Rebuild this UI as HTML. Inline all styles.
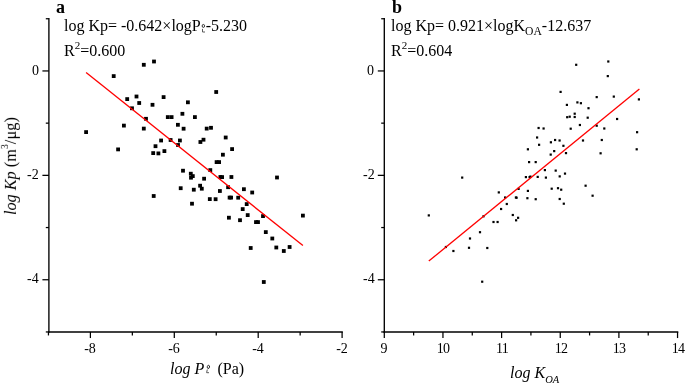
<!DOCTYPE html>
<html><head><meta charset="utf-8"><title>chart</title>
<style>
html,body{margin:0;padding:0;background:#fff;overflow:hidden;}
html{width:685px;height:383px;}
body{width:685px;height:383px;position:relative;overflow:hidden;font-family:"Liberation Serif",serif;color:#000;}
.t{position:absolute;white-space:nowrap;line-height:1;will-change:transform;}
.tk{font-size:14px;}
.eq{font-size:16px;}
.pl{font-size:18px;font-weight:bold;}
sup.s,sub.s{font-size:11px;line-height:0;}
sup.s{vertical-align:7.3px;}
sub.s{vertical-align:-3.5px;}
</style></head><body><div id="wrap" style="position:absolute;left:0;top:0;width:685px;height:383px;overflow:hidden;background:#fff">

<svg width="685" height="383" viewBox="0 0 685 383" style="position:absolute;left:0;top:0">
<g stroke="#000" stroke-width="1.35" fill="none" stroke-linecap="butt">
<path d="M48.90 18.00V332.70"/>
<path d="M48.15 331.95H342.85"/>
</g>
<g stroke="#000" stroke-width="1.25" fill="none">
<path d="M42.40 70.95H48.90"/>
<path d="M42.40 175.35H48.90"/>
<path d="M42.40 279.75H48.90"/>
<path d="M45.80 18.75H48.90"/>
<path d="M45.80 123.15H48.90"/>
<path d="M45.80 227.55H48.90"/>
<path d="M45.80 331.95H48.90"/>
<path d="M90.40 331.95V338.05"/>
<path d="M174.30 331.95V338.05"/>
<path d="M258.20 331.95V338.05"/>
<path d="M342.10 331.95V338.05"/>
<path d="M48.45 331.95V335.45"/>
<path d="M132.35 331.95V335.45"/>
<path d="M216.25 331.95V335.45"/>
<path d="M300.15 331.95V335.45"/>
</g>
<g stroke="#000" stroke-width="1.35" fill="none" stroke-linecap="butt">
<path d="M384.30 18.00V332.70"/>
<path d="M383.55 331.95H678.30"/>
</g>
<g stroke="#000" stroke-width="1.25" fill="none">
<path d="M377.80 70.95H384.30"/>
<path d="M377.80 175.35H384.30"/>
<path d="M377.80 279.75H384.30"/>
<path d="M381.20 18.75H384.30"/>
<path d="M381.20 123.15H384.30"/>
<path d="M381.20 227.55H384.30"/>
<path d="M381.20 331.95H384.30"/>
<path d="M384.30 331.95V338.05"/>
<path d="M442.95 331.95V338.05"/>
<path d="M501.60 331.95V338.05"/>
<path d="M560.25 331.95V338.05"/>
<path d="M618.90 331.95V338.05"/>
<path d="M677.55 331.95V338.05"/>
<path d="M413.62 331.95V335.45"/>
<path d="M472.27 331.95V335.45"/>
<path d="M530.92 331.95V335.45"/>
<path d="M589.58 331.95V335.45"/>
<path d="M648.23 331.95V335.45"/>
</g>
<g fill="#000">
<rect x="152.1" y="59.6" width="3.8" height="3.8"/>
<rect x="141.9" y="62.9" width="3.8" height="3.8"/>
<rect x="111.8" y="74.2" width="3.8" height="3.8"/>
<rect x="214.3" y="90.1" width="3.8" height="3.8"/>
<rect x="134.6" y="94.6" width="3.8" height="3.8"/>
<rect x="125.3" y="97.2" width="3.8" height="3.8"/>
<rect x="161.7" y="95.2" width="3.8" height="3.8"/>
<rect x="137.3" y="101.1" width="3.8" height="3.8"/>
<rect x="150.6" y="102.9" width="3.8" height="3.8"/>
<rect x="186.0" y="100.4" width="3.8" height="3.8"/>
<rect x="130.1" y="106.4" width="3.8" height="3.8"/>
<rect x="180.5" y="111.9" width="3.8" height="3.8"/>
<rect x="165.9" y="115.2" width="3.8" height="3.8"/>
<rect x="169.7" y="115.2" width="3.8" height="3.8"/>
<rect x="193.0" y="115.2" width="3.8" height="3.8"/>
<rect x="144.1" y="116.9" width="3.8" height="3.8"/>
<rect x="122.0" y="123.7" width="3.8" height="3.8"/>
<rect x="176.0" y="122.9" width="3.8" height="3.8"/>
<rect x="141.9" y="126.7" width="3.8" height="3.8"/>
<rect x="181.7" y="126.8" width="3.8" height="3.8"/>
<rect x="204.8" y="126.7" width="3.8" height="3.8"/>
<rect x="209.1" y="125.9" width="3.8" height="3.8"/>
<rect x="84.2" y="130.2" width="3.8" height="3.8"/>
<rect x="223.8" y="135.6" width="3.8" height="3.8"/>
<rect x="159.2" y="138.6" width="3.8" height="3.8"/>
<rect x="168.7" y="138.1" width="3.8" height="3.8"/>
<rect x="178.0" y="138.6" width="3.8" height="3.8"/>
<rect x="201.6" y="137.8" width="3.8" height="3.8"/>
<rect x="198.5" y="140.1" width="3.8" height="3.8"/>
<rect x="176.1" y="143.1" width="3.8" height="3.8"/>
<rect x="153.6" y="144.3" width="3.8" height="3.8"/>
<rect x="116.2" y="147.5" width="3.8" height="3.8"/>
<rect x="230.2" y="147.2" width="3.8" height="3.8"/>
<rect x="162.5" y="149.2" width="3.8" height="3.8"/>
<rect x="151.3" y="151.2" width="3.8" height="3.8"/>
<rect x="156.5" y="151.5" width="3.8" height="3.8"/>
<rect x="221.0" y="152.8" width="3.8" height="3.8"/>
<rect x="214.7" y="160.2" width="3.8" height="3.8"/>
<rect x="217.2" y="160.2" width="3.8" height="3.8"/>
<rect x="181.1" y="168.8" width="3.8" height="3.8"/>
<rect x="208.4" y="168.2" width="3.8" height="3.8"/>
<rect x="188.9" y="171.8" width="3.8" height="3.8"/>
<rect x="190.9" y="174.2" width="3.8" height="3.8"/>
<rect x="189.1" y="175.8" width="3.8" height="3.8"/>
<rect x="218.5" y="175.1" width="3.8" height="3.8"/>
<rect x="220.2" y="175.2" width="3.8" height="3.8"/>
<rect x="229.5" y="175.1" width="3.8" height="3.8"/>
<rect x="202.2" y="176.8" width="3.8" height="3.8"/>
<rect x="198.2" y="183.8" width="3.8" height="3.8"/>
<rect x="199.9" y="186.8" width="3.8" height="3.8"/>
<rect x="178.8" y="186.3" width="3.8" height="3.8"/>
<rect x="191.9" y="187.8" width="3.8" height="3.8"/>
<rect x="226.2" y="185.3" width="3.8" height="3.8"/>
<rect x="242.0" y="187.3" width="3.8" height="3.8"/>
<rect x="218.0" y="189.1" width="3.8" height="3.8"/>
<rect x="250.3" y="190.6" width="3.8" height="3.8"/>
<rect x="151.8" y="194.1" width="3.8" height="3.8"/>
<rect x="207.9" y="197.2" width="3.8" height="3.8"/>
<rect x="213.7" y="197.3" width="3.8" height="3.8"/>
<rect x="227.7" y="195.7" width="3.8" height="3.8"/>
<rect x="229.2" y="195.7" width="3.8" height="3.8"/>
<rect x="236.3" y="195.8" width="3.8" height="3.8"/>
<rect x="190.1" y="201.8" width="3.8" height="3.8"/>
<rect x="244.8" y="202.2" width="3.8" height="3.8"/>
<rect x="240.8" y="207.2" width="3.8" height="3.8"/>
<rect x="245.8" y="213.2" width="3.8" height="3.8"/>
<rect x="261.1" y="214.2" width="3.8" height="3.8"/>
<rect x="227.0" y="215.8" width="3.8" height="3.8"/>
<rect x="238.1" y="218.3" width="3.8" height="3.8"/>
<rect x="254.1" y="220.2" width="3.8" height="3.8"/>
<rect x="256.1" y="220.2" width="3.8" height="3.8"/>
<rect x="301.0" y="213.7" width="3.8" height="3.8"/>
<rect x="275.1" y="175.6" width="3.8" height="3.8"/>
<rect x="263.9" y="230.2" width="3.8" height="3.8"/>
<rect x="270.4" y="236.6" width="3.8" height="3.8"/>
<rect x="248.8" y="246.1" width="3.8" height="3.8"/>
<rect x="274.4" y="245.6" width="3.8" height="3.8"/>
<rect x="287.7" y="245.1" width="3.8" height="3.8"/>
<rect x="281.9" y="249.1" width="3.8" height="3.8"/>
<rect x="261.9" y="280.1" width="3.8" height="3.8"/>
<rect x="607.2" y="60.4" width="2.2" height="2.2"/>
<rect x="575.1" y="63.7" width="2.2" height="2.2"/>
<rect x="606.7" y="75.0" width="2.2" height="2.2"/>
<rect x="559.5" y="90.8" width="2.2" height="2.2"/>
<rect x="595.6" y="96.0" width="2.2" height="2.2"/>
<rect x="612.7" y="95.5" width="2.2" height="2.2"/>
<rect x="637.8" y="98.3" width="2.2" height="2.2"/>
<rect x="576.3" y="101.3" width="2.2" height="2.2"/>
<rect x="579.8" y="102.1" width="2.2" height="2.2"/>
<rect x="565.8" y="103.8" width="2.2" height="2.2"/>
<rect x="587.4" y="107.1" width="2.2" height="2.2"/>
<rect x="573.6" y="112.6" width="2.2" height="2.2"/>
<rect x="566.1" y="116.1" width="2.2" height="2.2"/>
<rect x="568.6" y="115.6" width="2.2" height="2.2"/>
<rect x="573.6" y="115.9" width="2.2" height="2.2"/>
<rect x="586.6" y="116.6" width="2.2" height="2.2"/>
<rect x="616.0" y="117.9" width="2.2" height="2.2"/>
<rect x="578.8" y="123.9" width="2.2" height="2.2"/>
<rect x="595.6" y="124.6" width="2.2" height="2.2"/>
<rect x="537.5" y="126.9" width="2.2" height="2.2"/>
<rect x="542.5" y="127.4" width="2.2" height="2.2"/>
<rect x="569.6" y="127.6" width="2.2" height="2.2"/>
<rect x="603.2" y="127.4" width="2.2" height="2.2"/>
<rect x="636.0" y="131.1" width="2.2" height="2.2"/>
<rect x="536.0" y="136.4" width="2.2" height="2.2"/>
<rect x="554.0" y="138.9" width="2.2" height="2.2"/>
<rect x="558.5" y="139.4" width="2.2" height="2.2"/>
<rect x="581.9" y="139.4" width="2.2" height="2.2"/>
<rect x="600.7" y="138.9" width="2.2" height="2.2"/>
<rect x="549.8" y="141.2" width="2.2" height="2.2"/>
<rect x="538.0" y="143.7" width="2.2" height="2.2"/>
<rect x="562.3" y="144.7" width="2.2" height="2.2"/>
<rect x="635.6" y="148.2" width="2.2" height="2.2"/>
<rect x="526.8" y="148.2" width="2.2" height="2.2"/>
<rect x="553.1" y="150.0" width="2.2" height="2.2"/>
<rect x="564.9" y="152.0" width="2.2" height="2.2"/>
<rect x="599.5" y="152.2" width="2.2" height="2.2"/>
<rect x="549.6" y="153.5" width="2.2" height="2.2"/>
<rect x="528.0" y="161.0" width="2.2" height="2.2"/>
<rect x="534.6" y="161.0" width="2.2" height="2.2"/>
<rect x="543.8" y="169.0" width="2.2" height="2.2"/>
<rect x="554.6" y="169.5" width="2.2" height="2.2"/>
<rect x="563.9" y="172.5" width="2.2" height="2.2"/>
<rect x="558.6" y="175.3" width="2.2" height="2.2"/>
<rect x="524.8" y="176.0" width="2.2" height="2.2"/>
<rect x="528.5" y="176.0" width="2.2" height="2.2"/>
<rect x="529.3" y="175.5" width="2.2" height="2.2"/>
<rect x="536.6" y="175.8" width="2.2" height="2.2"/>
<rect x="544.8" y="176.5" width="2.2" height="2.2"/>
<rect x="584.5" y="184.6" width="2.2" height="2.2"/>
<rect x="497.7" y="191.3" width="2.2" height="2.2"/>
<rect x="517.5" y="187.8" width="2.2" height="2.2"/>
<rect x="526.8" y="189.8" width="2.2" height="2.2"/>
<rect x="550.6" y="187.6" width="2.2" height="2.2"/>
<rect x="556.9" y="187.1" width="2.2" height="2.2"/>
<rect x="560.1" y="188.6" width="2.2" height="2.2"/>
<rect x="591.5" y="194.6" width="2.2" height="2.2"/>
<rect x="504.0" y="196.4" width="2.2" height="2.2"/>
<rect x="514.8" y="196.4" width="2.2" height="2.2"/>
<rect x="515.5" y="196.6" width="2.2" height="2.2"/>
<rect x="526.3" y="197.1" width="2.2" height="2.2"/>
<rect x="534.6" y="198.1" width="2.2" height="2.2"/>
<rect x="558.6" y="197.9" width="2.2" height="2.2"/>
<rect x="505.7" y="202.9" width="2.2" height="2.2"/>
<rect x="562.7" y="202.6" width="2.2" height="2.2"/>
<rect x="500.0" y="207.9" width="2.2" height="2.2"/>
<rect x="511.7" y="213.9" width="2.2" height="2.2"/>
<rect x="482.4" y="215.2" width="2.2" height="2.2"/>
<rect x="517.0" y="216.7" width="2.2" height="2.2"/>
<rect x="515.0" y="219.2" width="2.2" height="2.2"/>
<rect x="492.4" y="220.9" width="2.2" height="2.2"/>
<rect x="496.5" y="220.9" width="2.2" height="2.2"/>
<rect x="461.1" y="176.5" width="2.2" height="2.2"/>
<rect x="427.7" y="214.3" width="2.2" height="2.2"/>
<rect x="478.9" y="231.1" width="2.2" height="2.2"/>
<rect x="468.9" y="237.4" width="2.2" height="2.2"/>
<rect x="444.8" y="245.9" width="2.2" height="2.2"/>
<rect x="467.9" y="246.7" width="2.2" height="2.2"/>
<rect x="486.2" y="246.9" width="2.2" height="2.2"/>
<rect x="452.3" y="249.9" width="2.2" height="2.2"/>
<rect x="481.1" y="280.6" width="2.2" height="2.2"/>
</g>
<g stroke="#ff0000" stroke-width="1.3" fill="none">
<path d="M86.1 72.6L302.9 245.6"/>
<path d="M428.8 261.1L639.4 88.9"/>
</g>
<g fill="none" stroke="#222" stroke-width="0.9">
<ellipse cx="203.35" cy="25.95" rx="1.2" ry="1.5"/>
<path d="M202.5 28.9V32H205" stroke="#5a5a5a" stroke-width="1"/>
<ellipse cx="208.4" cy="366.9" rx="1.15" ry="1.6" transform="rotate(12 208.4 366.9)"/>
<path d="M207.3 369.5L206.6 372.7H209" stroke="#5a5a5a" stroke-width="1"/>
</g>
</svg>
<div class="t tk" style="right:646.1px;transform-origin:100% 50%;top:63.6px">0</div>
<div class="t tk" style="right:646.1px;transform-origin:100% 50%;top:168.0px">-2</div>
<div class="t tk" style="right:646.1px;transform-origin:100% 50%;top:272.4px">-4</div>
<div class="t tk" style="right:310.7px;transform-origin:100% 50%;top:63.6px">0</div>
<div class="t tk" style="right:310.7px;transform-origin:100% 50%;top:168.0px">-2</div>
<div class="t tk" style="right:310.7px;transform-origin:100% 50%;top:272.4px">-4</div>
<div class="t tk" style="left:70.4px;width:40px;text-align:center;top:342.3px">-8</div>
<div class="t tk" style="left:154.3px;width:40px;text-align:center;top:342.3px">-6</div>
<div class="t tk" style="left:238.2px;width:40px;text-align:center;top:342.3px">-4</div>
<div class="t tk" style="left:322.1px;width:40px;text-align:center;top:342.3px">-2</div>
<div class="t tk" style="left:364.3px;width:40px;text-align:center;top:342.3px">9</div>
<div class="t tk" style="left:423.2px;width:40px;text-align:center;top:342.3px;letter-spacing:-0.7px">10</div>
<div class="t tk" style="left:481.9px;width:40px;text-align:center;top:342.3px;letter-spacing:-0.7px">11</div>
<div class="t tk" style="left:540.5px;width:40px;text-align:center;top:342.3px;letter-spacing:-0.7px">12</div>
<div class="t tk" style="left:599.2px;width:40px;text-align:center;top:342.3px;letter-spacing:-0.7px">13</div>
<div class="t tk" style="left:657.8px;width:40px;text-align:center;top:342.3px;letter-spacing:-0.7px">14</div>
<div class="t pl" style="left:55.6px;top:-1.9px">a</div>
<div class="t pl" style="left:392.2px;top:-1.9px">b</div>
<div class="t eq" style="left:64px;top:18.1px">log Kp= -0.642×logP<span style="display:inline-block;width:5px"></span>-5.230</div>
<div class="t eq" style="left:64px;top:43.2px">R<sup class="s">2</sup>=0.600</div>
<div class="t eq" style="left:391.3px;top:18.1px">log Kp= 0.921×logK<sub class="s" style="font-size:11.6px;vertical-align:-4px">OA</sub>-12.637</div>
<div class="t eq" style="left:391.1px;top:43.2px">R<sup class="s">2</sup>=0.604</div>
<div class="t eq" style="left:170.0px;top:360.6px"><i>log P</i><span style="display:inline-block;width:13.3px"></span>(Pa)</div>
<div class="t eq" style="left:510.2px;top:364.6px"><i>log K<sub class="s" style="font-size:10.5px;vertical-align:-4.6px">OA</sub></i></div>
<div class="t" style="left:10.6px;top:166.0px;width:0;height:0;"><div style="position:absolute;left:0;top:0;transform:translate(-50%,-50%) rotate(-90deg);white-space:nowrap;font-size:16.2px;line-height:1"><i>log Kp</i> <span style="letter-spacing:0.12px">(m<sup class="s" style="font-size:9.5px;vertical-align:7.8px">3</sup>/μg)</span></div></div>
</div></body></html>
